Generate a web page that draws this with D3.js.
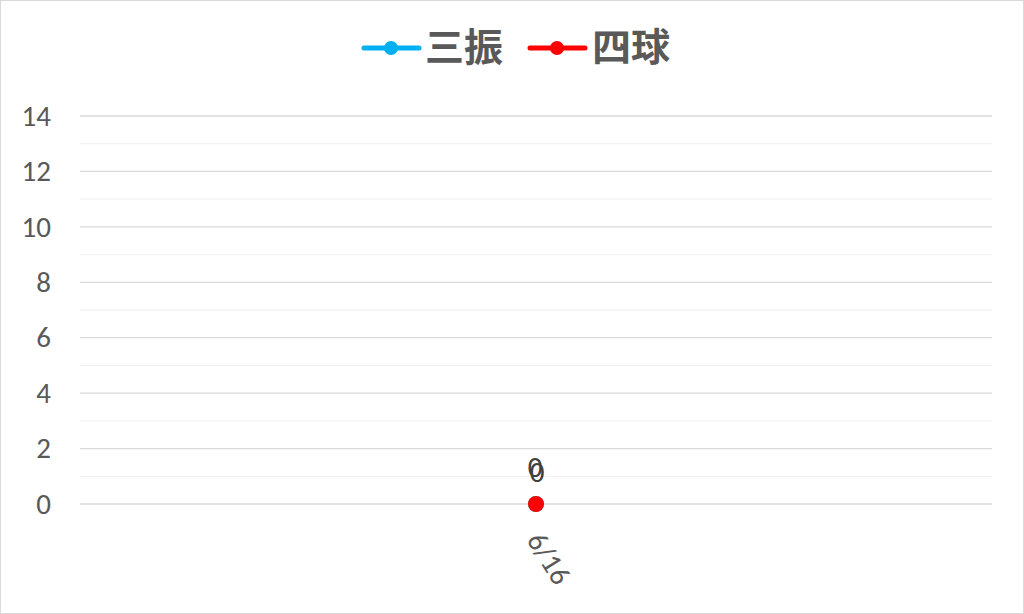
<!DOCTYPE html>
<html><head><meta charset="utf-8">
<script src="https://cdn.jsdelivr.net/npm/d3@7"></script>
<style>body{margin:0;background:#fff}svg{display:block}</style>
</head><body><svg id="c" width="1024" height="614"></svg>
<script>
const categories = ["6/16"];
const strikeouts = [0];
const walks = [0];
const seriesNames = ["三振", "四球"];
const seriesColors = ["#00B0F0", "#FF0000"];
const yTicks = [0, 2, 4, 6, 8, 10, 12, 14];

const FONT = "Calibri, Carlito, 'Open Sans', sans-serif";
const svg = d3.select("#c");
const W = 1024, H = 614;
const m = {l: 80, r: 32, t: 116, b: 110};
svg.append("rect").attr("x",0.5).attr("y",0.5).attr("width",W-1).attr("height",H-1)
  .attr("fill","#fff").attr("stroke","#D9D9D9");

const x = d3.scaleBand().domain(categories).range([m.l, W-m.r]);
const y = d3.scaleLinear().domain([0,14]).range([H-m.b, m.t]);

const g = svg.append("g");
g.selectAll(".minor").data(d3.range(1,14,2)).join("line")
  .attr("x1", m.l).attr("x2", W-m.r).attr("y1", d=>y(d)).attr("y2", d=>y(d))
  .attr("stroke","#F2F2F2").attr("stroke-width",1.3);
g.selectAll(".major").data(yTicks).join("line")
  .attr("x1", m.l).attr("x2", W-m.r).attr("y1", d=>y(d)).attr("y2", d=>y(d))
  .attr("stroke","#D9D9D9").attr("stroke-width",1.3);

const yAxis = svg.append("g").attr("transform",`translate(${m.l},0)`)
  .call(d3.axisLeft(y).tickValues(yTicks).tickSize(0).tickPadding(29));
yAxis.select(".domain").remove();
yAxis.selectAll("text").attr("font-family",FONT)
  .attr("font-size",29).attr("fill","#595959");

const xAxis = svg.append("g").attr("transform",`translate(0,${H-m.b})`)
  .call(d3.axisBottom(x).tickSize(0));
xAxis.select(".domain").remove();
xAxis.selectAll("text").attr("font-family",FONT)
  .attr("font-size",29).attr("fill","#595959")
  .attr("text-anchor","start").attr("y",0).attr("dy",0)
  .attr("transform","translate(-10,36) rotate(58)");

const series = [strikeouts, walks];
series.forEach((vals, si) => {
  const cx = c => x(c) + x.bandwidth()/2;
  svg.append("path").datum(vals)
    .attr("d", d3.line().x((d,i)=>cx(categories[i])).y(d=>y(d)))
    .attr("fill","none").attr("stroke",seriesColors[si]).attr("stroke-width",4);
  svg.selectAll(null).data(vals).join("circle")
    .attr("cx",(d,i)=>cx(categories[i])).attr("cy",d=>y(d)).attr("r",8)
    .attr("fill",seriesColors[si]);
  svg.selectAll(null).data(vals).join("text")
    .attr("x",(d,i)=>cx(categories[i]) + (si===0 ? -1 : 1)).attr("y",d=>y(d) - (si===0 ? 27 : 22))
    .attr("text-anchor","middle")
    .attr("font-family",FONT)
    .attr("font-size",29).attr("fill","#404040").text(d=>d);
});

const leg = svg.append("g");
const legItems = [{x:362, tx:425}, {x:528, tx:592}];
seriesNames.forEach((n,i)=>{
  const L = legItems[i];
  leg.append("line").attr("x1",L.x+2).attr("x2",L.x+57).attr("y1",48).attr("y2",48)
    .attr("stroke",seriesColors[i]).attr("stroke-width",5).attr("stroke-linecap","round");
  leg.append("circle").attr("cx",L.x+29).attr("cy",48).attr("r",7).attr("fill",seriesColors[i]);
  leg.append("text").attr("x",L.tx).attr("y",61).text(n)
    .attr("font-family","'Noto Sans CJK JP', sans-serif").attr("font-weight","bold")
    .attr("font-size",39).attr("fill","#595959");
});
</script></body></html>
